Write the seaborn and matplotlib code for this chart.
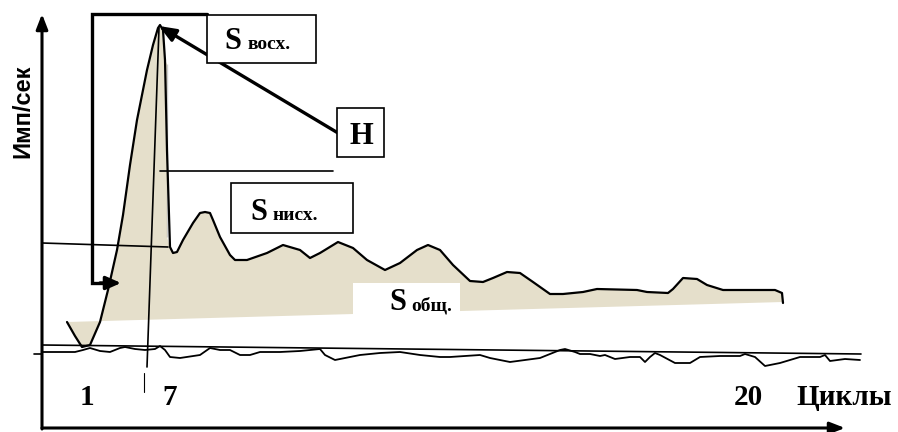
import numpy as np
import pandas as pd
import matplotlib
matplotlib.use("Agg")
import matplotlib.pyplot as plt
from matplotlib.patches import Rectangle, Polygon
import seaborn as sns

# Main signal (count rate per cycle), drawing units: x across, y downward
sig_x = [67, 75, 82, 90, 100, 108, 117, 123, 130, 137, 147, 153, 158, 160,
         163, 165, 167, 167, 170, 173, 177, 183, 193, 200, 205, 210, 213,
         220, 230, 235, 247, 267, 283, 300, 310, 320, 338, 353, 367, 385,
         400, 417, 428, 440, 453, 470, 483, 493, 507, 520, 533, 550, 563,
         583, 597, 637, 647, 668, 673, 683, 697, 707, 723, 775, 782, 783]
sig_y = [322, 336, 347, 345, 322, 290, 250, 215, 165, 120, 70, 45, 28, 25,
         30, 60, 64, 237, 247, 253, 252, 240, 223, 213, 212, 213, 220,
         237, 255, 260, 260, 253, 245, 250, 258, 253, 242, 248, 260, 270,
         263, 250, 245, 250, 265, 281, 282, 278, 272, 273, 282, 294, 294,
         292, 289, 290, 292, 293, 289, 278, 279, 285, 290, 290, 293, 303]

# Lower edge of the integrated area (sloping background)
base_x = [783, 67]
base_y = [302, 322]

# Background noise trace
noise_x = [42, 75, 83, 90, 100, 110, 120, 125, 135, 145, 155, 160, 165,
           170, 180, 200, 210, 220, 230, 240, 250, 260, 280, 300, 320, 325,
           335, 360, 380, 400, 420, 440, 450, 465, 480, 490, 510, 540, 560,
           565, 575, 580, 590, 600, 605, 615, 630, 640, 645, 650, 655, 660,
           675, 690, 700, 720, 740, 745, 755, 765, 780, 800, 820, 825, 830,
           845, 860]
noise_y = [352, 352, 350, 348, 351, 352, 348, 347, 349, 350, 349, 346, 350,
           357, 358, 355, 348, 350, 350, 355, 355, 352, 352, 351, 349, 355,
           360, 355, 353, 352, 355, 357, 357, 356, 355, 358, 362, 358, 350,
           349, 352, 354, 354, 356, 355, 359, 357, 357, 362, 357, 353, 355,
           363, 363, 357, 356, 356, 354, 357, 366, 363, 357, 357, 355, 361,
           359, 360]

# Background trend line
trend_x = [42, 861]
trend_y = [345, 354]

cycle_ticks = ["1", "7", "20"]
cycle_tick_x = [87, 170, 748]
x_title = "Циклы"
y_title = "Имп/сек"

sns.set_style("white")
plt.rcParams["font.family"] = ["Liberation Serif", "DejaVu Serif"]
plt.rcParams["text.color"] = "black"

fig = plt.figure(figsize=(8.98, 4.32), dpi=100)
ax = fig.add_axes([0, 0, 1, 1])

beige = "#e5dfcb"

# Integrated area under the signal
poly = Polygon(list(zip(sig_x, sig_y)) + list(zip(base_x, base_y)),
               closed=True, facecolor=beige, edgecolor="none", zorder=1)
ax.add_patch(poly)

# White label box cutting the area
ax.add_patch(Rectangle((353, 283), 107, 40, facecolor="white",
                       edgecolor="none", zorder=2))
ax.text(406, 310, "S", fontsize=22, fontweight="bold", ha="right",
        va="baseline", zorder=5)
ax.text(411, 310, "общ.", fontsize=14, fontweight="bold", ha="left",
        va="baseline", zorder=5)

sig = pd.DataFrame({"x": sig_x, "y": sig_y})
noise = pd.DataFrame({"x": noise_x, "y": noise_y})
trend = pd.DataFrame({"x": trend_x, "y": trend_y})
sns.lineplot(data=sig, x="x", y="y", sort=False, color="black", lw=1.6,
             ax=ax, zorder=4)
sns.lineplot(data=noise, x="x", y="y", sort=False, color="black", lw=1.3,
             ax=ax, zorder=4)
sns.lineplot(data=trend, x="x", y="y", sort=False, color="black", lw=1.2,
             ax=ax, zorder=4)
ax.set_xlim(0, 898)
ax.set_ylim(432, 0)
ax.axis("off")

# Coordinate axes with arrowheads
arrow = dict(arrowstyle="-|>,head_length=0.9,head_width=0.35", color="black",
             lw=2.2, shrinkA=0, shrinkB=0)
ax.annotate("", xy=(42, 14), xytext=(42, 429), arrowprops=arrow, zorder=6)
ax.annotate("", xy=(845, 428), xytext=(42, 428), arrowprops=arrow, zorder=6)
ax.plot([34, 42], [354, 354], color="black", lw=1.2, zorder=6)

# Thin guide lines
ax.plot([159, 147], [28, 367], color="black", lw=1.2, zorder=4)
ax.plot([144, 144], [373, 392], color="black", lw=0.8, zorder=4)
ax.plot([160, 333], [171, 171], color="black", lw=1.2, zorder=4)
ax.plot([42, 168], [243, 247], color="black", lw=1.2, zorder=4)

# Rising-front bracket
ax.plot([207, 92, 92, 105], [14, 14, 283, 283], color="black", lw=2.4,
        solid_joinstyle="miter", zorder=6)
ax.annotate("", xy=(121, 283), xytext=(100, 283),
            arrowprops=dict(arrowstyle="-|>,head_length=0.9,head_width=0.4",
                            color="black", lw=2.4, shrinkA=0, shrinkB=0),
            zorder=6)

# Peak height arrow
ax.annotate("", xy=(159, 26), xytext=(338, 133),
            arrowprops=dict(arrowstyle="-|>,head_length=1.0,head_width=0.4",
                            color="black", lw=2.4, shrinkA=0, shrinkB=0),
            zorder=6)

# Label boxes
for (x0, y0, x1, y1) in [(207, 15, 316, 63), (337, 108, 384, 157),
                         (231, 183, 353, 233)]:
    ax.add_patch(Rectangle((x0, y0), x1 - x0, y1 - y0, facecolor="white",
                           edgecolor="black", lw=1.2, zorder=7))

ax.text(233, 49, "S", fontsize=22, fontweight="bold", ha="center",
        va="baseline", zorder=8)
ax.text(248, 49, "восх.", fontsize=14, fontweight="bold", ha="left",
        va="baseline", zorder=8)
ax.text(361, 144, "H", fontsize=22, fontweight="bold", ha="center",
        va="baseline", zorder=8)
ax.text(259, 220, "S", fontsize=22, fontweight="bold", ha="center",
        va="baseline", zorder=8)
ax.text(273, 220, "нисх.", fontsize=14, fontweight="bold", ha="left",
        va="baseline", zorder=8)

# Cycle labels and axis titles
for lbl, xp in zip(cycle_ticks, cycle_tick_x):
    ax.text(xp, 405, lbl, fontsize=21, fontweight="bold", ha="center",
            va="baseline", zorder=8)
ax.text(844, 405, x_title, fontsize=21, fontweight="bold", ha="center",
        va="baseline", zorder=8)
ax.text(23, 111, y_title, fontsize=17, fontweight="bold", rotation=90,
        ha="center", va="center", family=["Liberation Sans", "DejaVu Sans"],
        zorder=8)

fig.savefig("out.png", dpi=100)
